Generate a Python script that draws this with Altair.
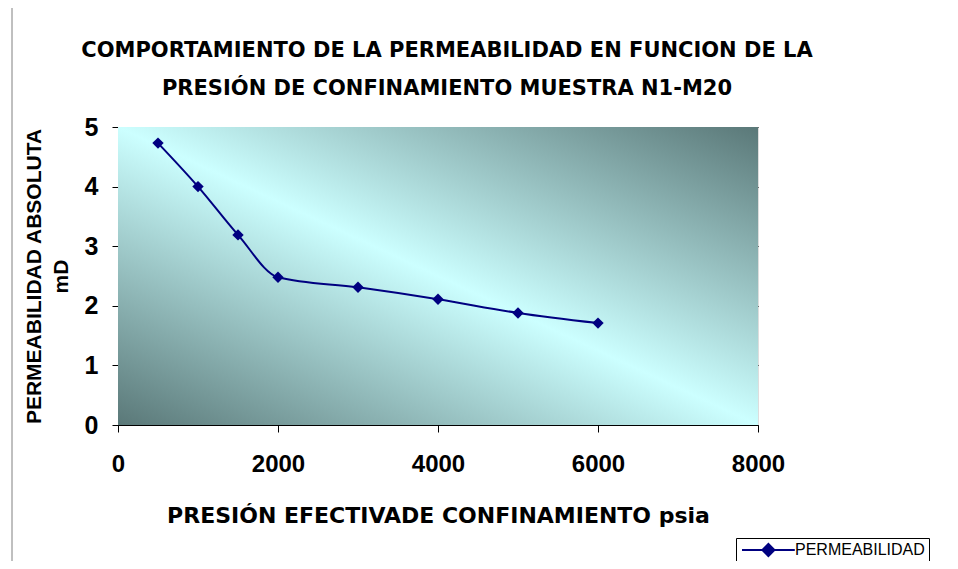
import altair as alt
import pandas as pd

presion = [500, 1000, 1500, 2000, 3000, 4000, 5000, 6000]
permeabilidad = [4.73, 4.0, 3.19, 2.48, 2.31, 2.11, 1.88, 1.71]
serie = ["PERMEABILIDAD"] * len(presion)

x_ticks = [0, 2000, 4000, 6000, 8000]
y_ticks = [0, 1, 2, 3, 4, 5]

title_lines = ["COMPORTAMIENTO DE LA PERMEABILIDAD EN FUNCION DE LA",
               "PRESIÓN DE CONFINAMIENTO MUESTRA N1-M20"]
x_title = "PRESIÓN EFECTIVADE CONFINAMIENTO  psia"
y_title = ["PERMEABILIDAD ABSOLUTA", "mD"]

df = pd.DataFrame({"presion": presion, "perm": permeabilidad, "serie": serie})

W, H = 640, 298

bg = alt.Chart(pd.DataFrame({"a": [0]})).mark_rect(
    fill=alt.Gradient(
        gradient="linear",
        x1=0, y1=1, x2=1, y2=0,
        stops=[
            alt.GradientStop(offset=0, color="#5A7878"),
            alt.GradientStop(offset=0.5, color="#CCFFFF"),
            alt.GradientStop(offset=1, color="#5A7878"),
        ],
    )
).encode(x=alt.value(0), x2=alt.value(W), y=alt.value(0), y2=alt.value(H))

border = alt.Chart(pd.DataFrame({"a": [0]})).mark_rule(color="#808080", strokeWidth=1).encode(
    x=alt.value(-106), y=alt.value(-119), y2=alt.value(H + 140)
)

line = alt.Chart(df).mark_line(
    interpolate="monotone",
    strokeWidth=2,
    point=alt.OverlayMarkDef(shape="diamond", size=130, filled=True, opacity=1),
).encode(
    x=alt.X("presion:Q",
            scale=alt.Scale(domain=[0, 8000], nice=False),
            axis=alt.Axis(values=x_ticks, format="d", title=x_title, grid=False,
                          labelFlush=False,
                          labelFont="Liberation Sans", labelFontSize=24, labelFontWeight="bold",
                          labelPadding=20, labelColor="black",
                          titleFont="DejaVu Sans", titleFontSize=22, titleFontWeight="bold",
                          titlePadding=29, titleColor="black",
                          tickSize=7, tickColor="black", domainColor="black")),
    y=alt.Y("perm:Q",
            scale=alt.Scale(domain=[0, 5], nice=False),
            axis=alt.Axis(values=y_ticks, title=y_title, grid=True, gridColor="black",
                          gridOpacity=1, gridWidth=1, labelFlush=False,
                          labelFont="Liberation Sans", labelFontSize=25, labelFontWeight="bold",
                          labelPadding=14, labelColor="black",
                          titleFont="Liberation Sans", titleFontSize=21, titleFontWeight="bold",
                          titleLineHeight=27, titlePadding=13, titleColor="black",
                          tickSize=6, tickColor="black", domainColor="black")),
    color=alt.Color("serie:N",
                    scale=alt.Scale(range=["#000080"]),
                    legend=alt.Legend(
                        title=None, orient="none", legendX=618, legendY=411,
                        symbolType="M-1,0H7.8M3.4,-1L4.4,0L3.4,1L2.4,0Z",
                        symbolSize=144, symbolStrokeWidth=2,
                        symbolFillColor="#000080", symbolStrokeColor="#000080",
                        labelFont="Liberation Sans", labelFontSize=16, labelColor="black",
                        labelOffset=39, strokeColor="black", fillColor="white",
                        padding=4)),
)

chart = alt.layer(bg, border, line).properties(
    width=W, height=H,
    autosize=alt.AutoSizeParams(type="none"),
    padding={"left": 110, "top": 119, "right": 192, "bottom": 136},
    title=alt.TitleParams(text=title_lines, font="DejaVu Sans", fontSize=21,
                          fontWeight="bold", color="black", lineHeight=38,
                          anchor="middle", dx=9, offset=0, dy=91),
).configure_view(stroke="#808080", strokeWidth=1).configure(background="white")

chart.save("out.html", embed_options={"renderer": "svg", "actions": False})
